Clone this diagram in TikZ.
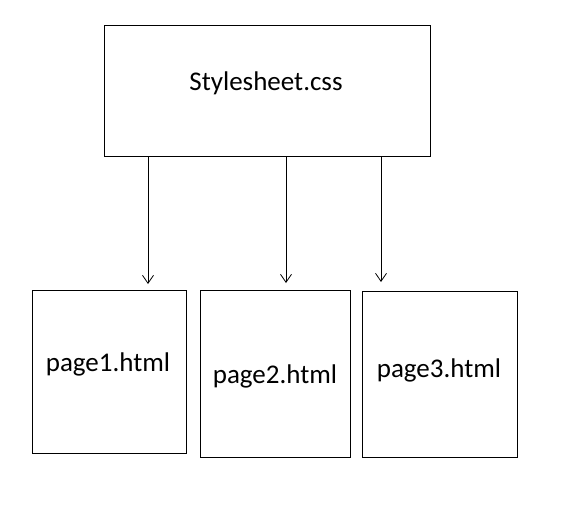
\documentclass[tikz,border=0pt]{standalone}
\usepackage{fontspec}
\setmainfont{Carlito}
\usetikzlibrary{arrows.meta}
\begin{document}
\begin{tikzpicture}[x=1pt,y=-1pt,
  box/.style={draw=black,line width=1pt,fill=white},
  lbl/.style={font=\fontsize{27}{31}\selectfont,text=black,inner sep=0pt},
  conn/.style={draw=black,line width=0.8pt,-{Straight Barb[length=8pt,width=11pt,line width=0.8pt]}}]
\useasboundingbox[fill=white] (0,0) rectangle (577,528);
\draw[box] (104,25) rectangle (430,156);
\draw[box] (32,290) rectangle (186,453);
\draw[box] (200,290) rectangle (350,457);
\draw[box] (362,291) rectangle (517,457);
\node[lbl] (css) at (266,83) {Stylesheet.css};
\node[lbl] (p1) at (108,364) {page1.html};
\node[lbl] (p2) at (275,376) {page2.html};
\node[lbl] (p3) at (439,370) {page3.html};
\coordinate (s1) at (148,156);
\coordinate (s2) at (286,156);
\coordinate (s3) at (381,156);
\coordinate (e1) at (148,284);
\coordinate (e2) at (286,283);
\coordinate (e3) at (381,282);
\draw[conn] (s1) -- (e1);
\draw[conn] (s2) -- (e2);
\draw[conn] (s3) -- (e3);
\end{tikzpicture}
\end{document}
